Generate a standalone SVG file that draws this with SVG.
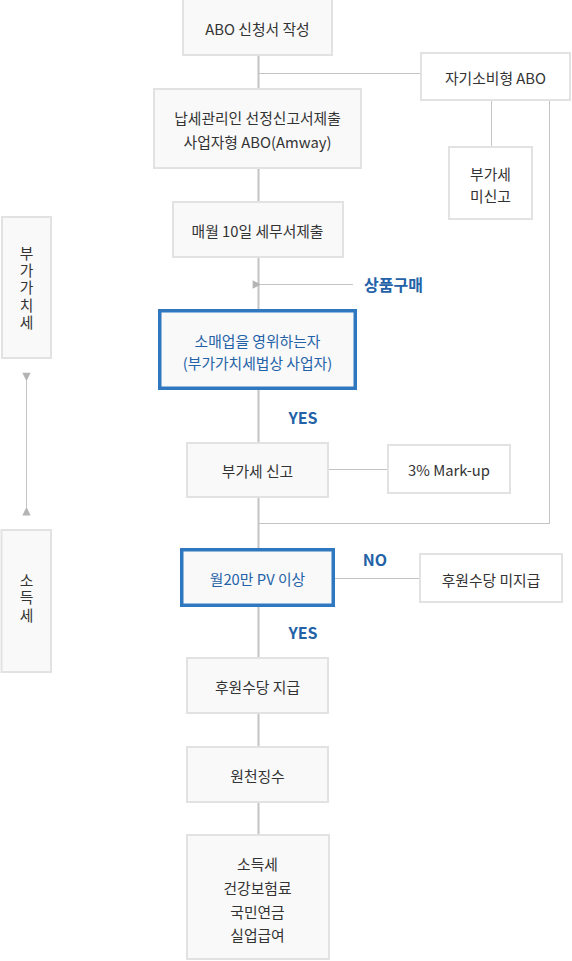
<svg xmlns="http://www.w3.org/2000/svg" width="572" height="961" viewBox="0 0 572 961">
<defs>
<style>
.box{fill:#f9f9f9;stroke:#e2e2e2;stroke-width:2}
.wbox{fill:#ffffff;stroke:#e2e2e2;stroke-width:2}
.bbox{fill:#f9f9f9;stroke:#2f78c0;stroke-width:3.5}
.t{font-family:"Noto Sans CJK KR","Noto Sans",sans-serif;font-size:14.8px;fill:#333333;text-anchor:middle;dominant-baseline:central}
.tv{font-family:"Noto Sans CJK KR","Noto Sans",sans-serif;font-size:14.8px;fill:#333333;text-anchor:middle;dominant-baseline:central;writing-mode:vertical-rl;letter-spacing:2.3px}
.tb{font-family:"Noto Sans CJK KR","Noto Sans",sans-serif;font-size:14.8px;fill:#2462a8;text-anchor:middle;dominant-baseline:central}
.lbl{font-family:"Noto Sans CJK KR","Noto Sans",sans-serif;font-size:16px;font-weight:bold;fill:#2462a8;text-anchor:middle;dominant-baseline:central}
.ln{stroke:#c4c4c4;stroke-width:1;fill:none}
.lm{stroke:#c4c4c4;stroke-width:2;fill:none}
</style>
<marker id="ah" viewBox="0 0 8 8" refX="0.5" refY="4" markerWidth="9" markerHeight="9" markerUnits="userSpaceOnUse" orient="auto-start-reverse">
<path d="M0,4 L7.5,0.3 L7.5,7.7 Z" fill="#b4b4b4"/>
</marker>
</defs>
<g id="connectors">
<line class="lm" x1="258.5" y1="50" x2="258.5" y2="840"/>
<line class="ln" x1="258" y1="73.5" x2="421" y2="73.5"/>
<line class="ln" x1="491.5" y1="100" x2="491.5" y2="147"/>
<line class="ln" x1="549.5" y1="100" x2="549.5" y2="523.5"/>
<line class="ln" x1="258" y1="523.5" x2="550" y2="523.5"/>
<line class="ln" x1="329" y1="469.5" x2="388" y2="469.5"/>
<line class="ln" x1="335" y1="578.5" x2="420" y2="578.5"/>
<line class="ln" x1="353" y1="284.5" x2="260.5" y2="284.5" marker-end="url(#ah)"/>
<line class="ln" x1="26.5" y1="380.5" x2="26.5" y2="507.5" marker-start="url(#ah)" marker-end="url(#ah)"/>
</g>
<g id="n1"><rect class="box" x="183" y="-2" width="149" height="57"/><text class="t" x="257.5" y="28">ABO 신청서 작성</text></g>
<g id="n2"><rect class="box" x="154" y="89" width="207" height="79"/><text class="t" x="257.5" y="117">납세관리인 선정신고서제출</text><text class="t" x="257.5" y="141">사업자형 ABO(Amway)</text></g>
<g id="n3"><rect class="wbox" x="421" y="53" width="149" height="47"/><text class="t" x="495.5" y="77">자기소비형 ABO</text></g>
<g id="n4"><rect class="wbox" x="449" y="147" width="83" height="72"/><text class="t" x="490.5" y="173">부가세</text><text class="t" x="490.5" y="195">미신고</text></g>
<g id="n5"><rect class="box" x="173" y="202" width="170" height="55"/><text class="t" x="257.5" y="230">매월 10일 세무서제출</text></g>
<g id="l1"><text class="lbl" x="393.5" y="284">상품구매</text></g>
<g id="n6"><rect class="bbox" x="159.75" y="310.75" width="195.5" height="77.5"/><text class="tb" x="257.5" y="340">소매업을 영위하는자</text><text class="tb" x="257.5" y="362">(부가가치세법상 사업자)</text></g>
<g id="l2"><text class="lbl" x="303" y="417">YES</text></g>
<g id="n7"><rect class="box" x="187" y="443" width="141" height="54"/><text class="t" x="257.5" y="470">부가세 신고</text></g>
<g id="n8"><rect class="wbox" x="388" y="445" width="122" height="48"/><text class="t" x="449" y="469">3% Mark-up</text></g>
<g id="n9"><rect class="bbox" x="181.75" y="549.75" width="151.5" height="55.5"/><text class="tb" x="257.5" y="578">월20만 PV 이상</text></g>
<g id="l3"><text class="lbl" x="375" y="559">NO</text></g>
<g id="n10"><rect class="wbox" x="420" y="554" width="142" height="48"/><text class="t" x="491" y="579">후원수당 미지급</text></g>
<g id="l4"><text class="lbl" x="303" y="632">YES</text></g>
<g id="n11"><rect class="box" x="187" y="658" width="141" height="55"/><text class="t" x="257.5" y="686">후원수당 지급</text></g>
<g id="n12"><rect class="box" x="187" y="747" width="141" height="55"/><text class="t" x="257.5" y="775">원천징수</text></g>
<g id="n13"><rect class="box" x="187" y="835" width="142" height="124"/><text class="t" x="257.5" y="863">소득세</text><text class="t" x="257.5" y="887">건강보험료</text><text class="t" x="257.5" y="911">국민연금</text><text class="t" x="257.5" y="934">실업급여</text></g>
<g id="n14"><rect class="box" x="2" y="217" width="49" height="141"/><text class="tv" x="26.5" y="289">부가가치세</text></g>
<g id="n15"><rect class="box" x="1.5" y="530" width="49.5" height="142"/><text class="tv" x="26.5" y="599">소득세</text></g>
</svg>
